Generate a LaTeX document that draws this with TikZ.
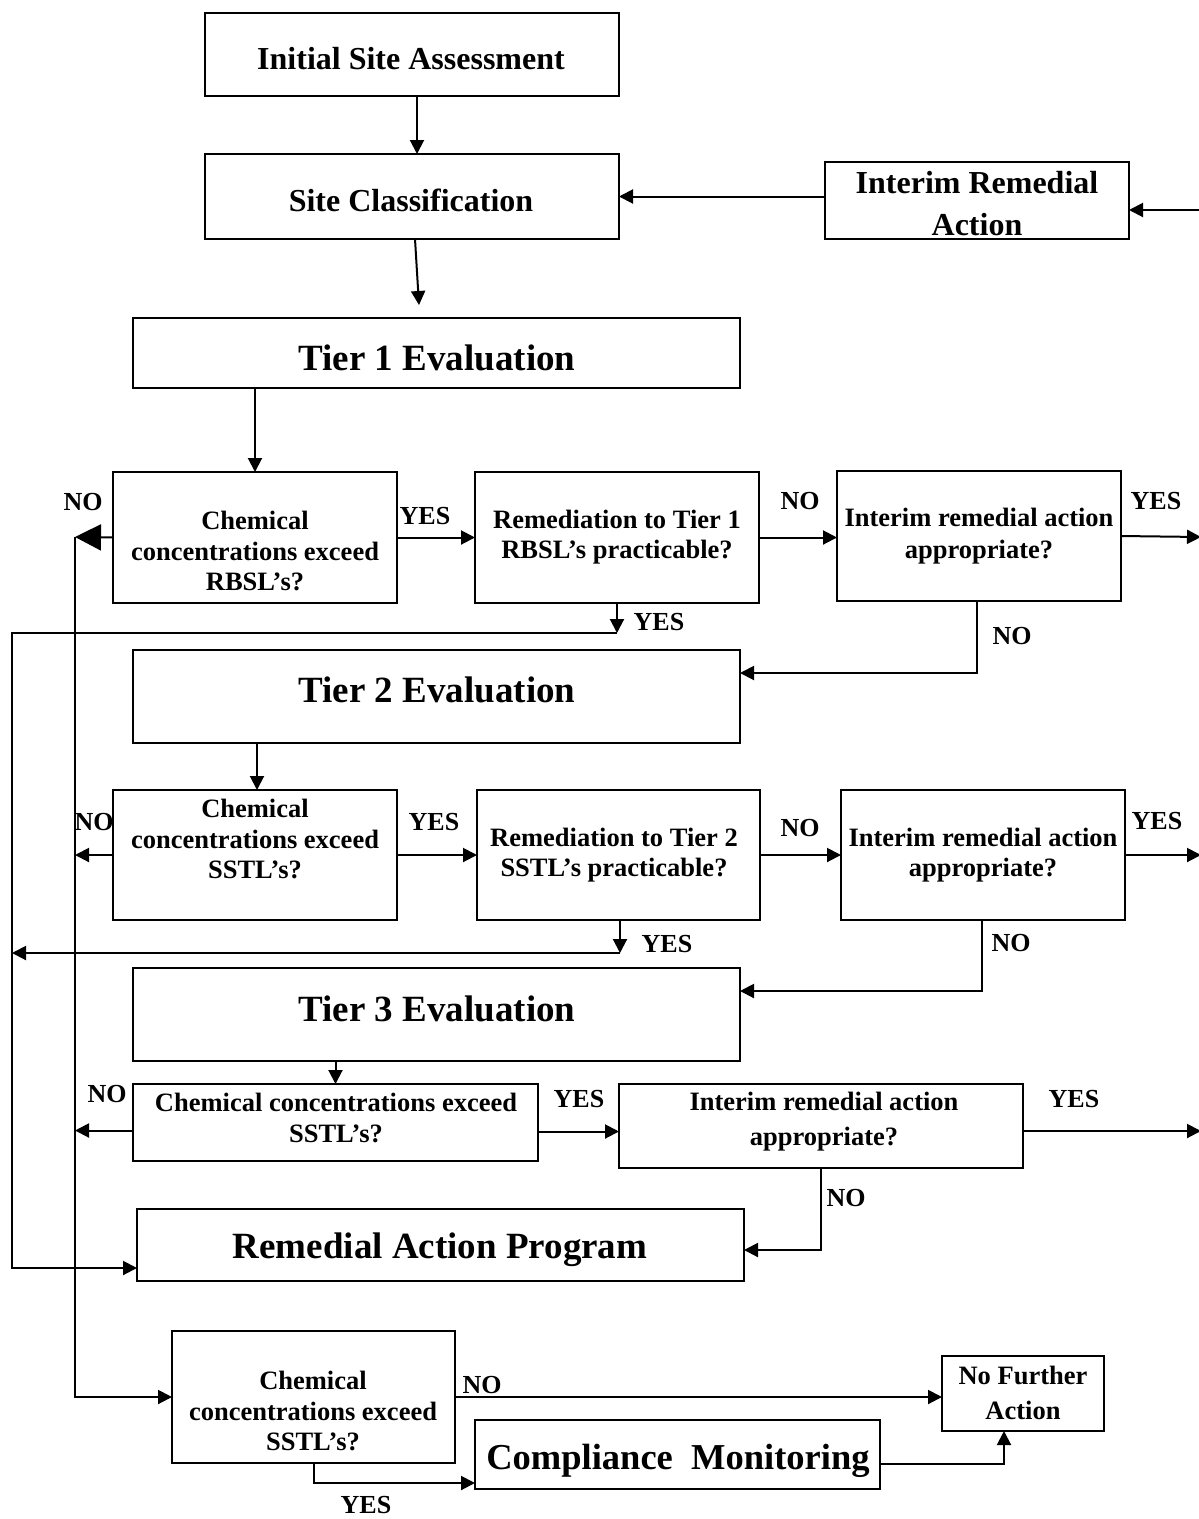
\documentclass[tikz,border=0pt]{standalone}
\usepackage{fontspec}
\setmainfont{Liberation Serif}
\usetikzlibrary{arrows.meta}
\newcommand\mybox[5]{\node[box,minimum width={(#4-#2)*1pt},minimum height={(#5-#3)*1pt}] (#1) at ({(#2+#4)/2},{(#3+#5)/2}) {};}
\begin{document}
\begin{tikzpicture}[x=1pt,y=-1pt,
  box/.style={draw,line width=2pt,inner sep=0pt,outer sep=0pt},
  tA/.style={font=\bfseries\fontsize{26.5}{30.5}\selectfont,align=center,inner sep=0pt},
  tB/.style={font=\bfseries\fontsize{32}{42}\selectfont,align=center,inner sep=0pt},
  tC/.style={font=\bfseries\fontsize{37}{44}\selectfont,align=center,inner sep=0pt},
  lbl/.style={font=\bfseries\fontsize{26}{30}\selectfont,inner sep=0pt},
  arr/.style={line width=2pt,-{Triangle[length=14pt,width=14pt]}},
  bigarr/.style={line width=2pt,-{Triangle[length=26pt,width=26pt]}}]
\useasboundingbox (0,0) rectangle (1199,1519);
\fill[white] (0,0) rectangle (1199,1519);

% boxes
\mybox{isa}{205}{13}{619}{96}
\mybox{sc}{205}{154}{619}{239}
\mybox{ira}{825}{162}{1129}{239}
\mybox{t1}{133}{318}{740}{388}
\mybox{c1}{113}{472}{397}{603}
\mybox{r1}{475}{472}{759}{603}
\mybox{i1}{837}{471}{1121}{601}
\mybox{t2}{133}{650}{740}{743}
\mybox{c2}{113}{790}{397}{920}
\mybox{r2}{477}{790}{760}{920}
\mybox{i2}{841}{790}{1125}{920}
\mybox{t3}{133}{968}{740}{1061}
\mybox{c3}{133}{1084}{538}{1161}
\mybox{i3}{619}{1084}{1023}{1168}
\mybox{rap}{137}{1209}{744}{1281}
\mybox{c4}{172}{1331}{455}{1463}
\mybox{nfa}{942}{1356}{1104}{1431}
\mybox{cm}{475}{1420}{880}{1489}

% texts
\node[tB] (isaT) at (411,59) {Initial Site Assessment};
\node[tB] (scT) at (411,200) {Site Classification};
\node[tB] (iraT) at (977,204) {Interim Remedial\\Action};
\node[tC] (t1T) at (437,358) {Tier 1 Evaluation};
\node[tA] (c1T) at (255,551) {Chemical\\concentrations exceed\\RBSL’s?};
\node[tA] (r1T) at (617,537) {Remediation to Tier 1\\RBSL’s practicable?};
\node[tA,font=\bfseries\fontsize{26.5}{32}\selectfont] (i1T) at (979,536) {Interim remedial action\\appropriate?};
\node[tC] (t2T) at (437,690) {Tier 2 Evaluation};
\node[tA] (c2T) at (255,839) {Chemical\\concentrations exceed\\SSTL’s?};
\node[tA] (r2T) at (614,855) {Remediation to Tier 2\\SSTL’s practicable?};
\node[tA] (i2T) at (983,855) {Interim remedial action\\appropriate?};
\node[tC] (t3T) at (437,1009) {Tier 3 Evaluation};
\node[tA,font=\bfseries\fontsize{26.5}{31}\selectfont] (c3T) at (336,1118) {Chemical concentrations exceed\\SSTL’s?};
\node[tA,font=\bfseries\fontsize{26.5}{35}\selectfont] (i3T) at (824,1122) {Interim remedial action\\appropriate?};
\node[tC] (rapT) at (440,1250) {Remedial Action Program};
\node[tA] (c4T) at (313,1411) {Chemical\\concentrations exceed\\SSTL’s?};
\node[tA,font=\bfseries\fontsize{26.5}{35}\selectfont] (nfaT) at (1023,1393) {No Further\\Action};
\node[tC,font=\bfseries\fontsize{36.5}{44}\selectfont] (cmT) at (678,1461) {Compliance\enspace Monitoring};

% labels
\node[lbl] (l1) at (83,502) {NO};
\node[lbl] (l2) at (425,516) {YES};
\node[lbl] (l3) at (800,501) {NO};
\node[lbl] (l4) at (1156,501) {YES};
\node[lbl] (l5) at (659,622) {YES};
\node[lbl] (l6) at (1012,636) {NO};
\node[lbl] (l7) at (94,822) {NO};
\node[lbl] (l8) at (434,822) {YES};
\node[lbl] (l9) at (800,828) {NO};
\node[lbl] (l10) at (1157,821) {YES};
\node[lbl] (l11) at (667,944) {YES};
\node[lbl] (l12) at (1011,943) {NO};
\node[lbl] (l13) at (107,1094) {NO};
\node[lbl] (l14) at (579,1099) {YES};
\node[lbl] (l15) at (1074,1099) {YES};
\node[lbl] (l16) at (846,1198) {NO};
\node[lbl] (l17) at (482,1385) {NO};
\node[lbl] (l18) at (366,1505) {YES};

% coordinates
\coordinate (a2) at (419,305);
\coordinate (e0) at (1205,210);
\coordinate (n1) at (75,537);
\coordinate (e1) at (1201,537);
\coordinate (y1) at (617,633);
\coordinate (o1) at (12,633);
\coordinate (e2) at (1201,855);
\coordinate (y2) at (620,953);
\coordinate (o2) at (12,953);
\coordinate (e3) at (1201,1131);

% connectors
\draw[arr] ([xshift=5pt]isa.south) -- ([xshift=5pt]sc.north);
\draw[arr] ([xshift=3pt]sc.south) -- (a2);
\draw[arr] (ira.west |- sc.east) -- (sc.east);
\draw[arr] (e0) -- (e0 -| ira.east);
\draw[arr] (c1.north |- t1.south) -- (c1.north);
\draw[bigarr] (c1.west) -- (n1);
\draw[arr] (n1) |- (c4.west);
\draw[arr] (c1.east) -- (c1.east -| r1.west);
\draw[arr] (r1.east) -- (r1.east -| i1.west);
\draw[arr] (i1.east) -- (e1);
\draw[arr] (r1.south) -- (y1);
\draw[arr] (y1) -- (o1) |- ([yshift=-23pt]rap.west);
\draw[arr] ([xshift=-2pt]i1.south) |- ([yshift=23.5pt]t2.east);
\draw[arr] ([xshift=2pt]c2.north |- t2.south) -- ([xshift=2pt]c2.north);
\draw[arr] (c2.west) -- (c2.west -| n1);
\draw[arr] (c2.east) -- (c2.east -| r2.west);
\draw[arr] (r2.east) -- (r2.east -| i2.west);
\draw[arr] (i2.east) -- (e2);
\draw[arr] ([xshift=1.5pt]r2.south) -- (y2);
\draw[arr] (y2) -- (o2);
\draw[arr] ([xshift=-1pt]i2.south) |- ([yshift=23.5pt]t3.east);
\draw[arr] (c3.north |- t3.south) -- (c3.north);
\draw[arr] ([yshift=-8pt]c3.west) -- ([yshift=-8pt]c3.west -| n1);
\draw[arr] ([yshift=-9pt]c3.east) -- ([yshift=-9pt]c3.east -| i3.west);
\draw[arr] ([yshift=-5pt]i3.east) -- (e3);
\draw[arr] (i3.south) |- ([yshift=-5pt]rap.east);
\draw[arr] (c4.east) -- (c4.east -| nfa.west);
\draw[arr] (c4.south) |- ([yshift=-28.5pt]cm.west);
\draw[arr] ([yshift=-9.5pt]cm.east) -| ([xshift=-19pt]nfa.south);
\end{tikzpicture}
\end{document}
